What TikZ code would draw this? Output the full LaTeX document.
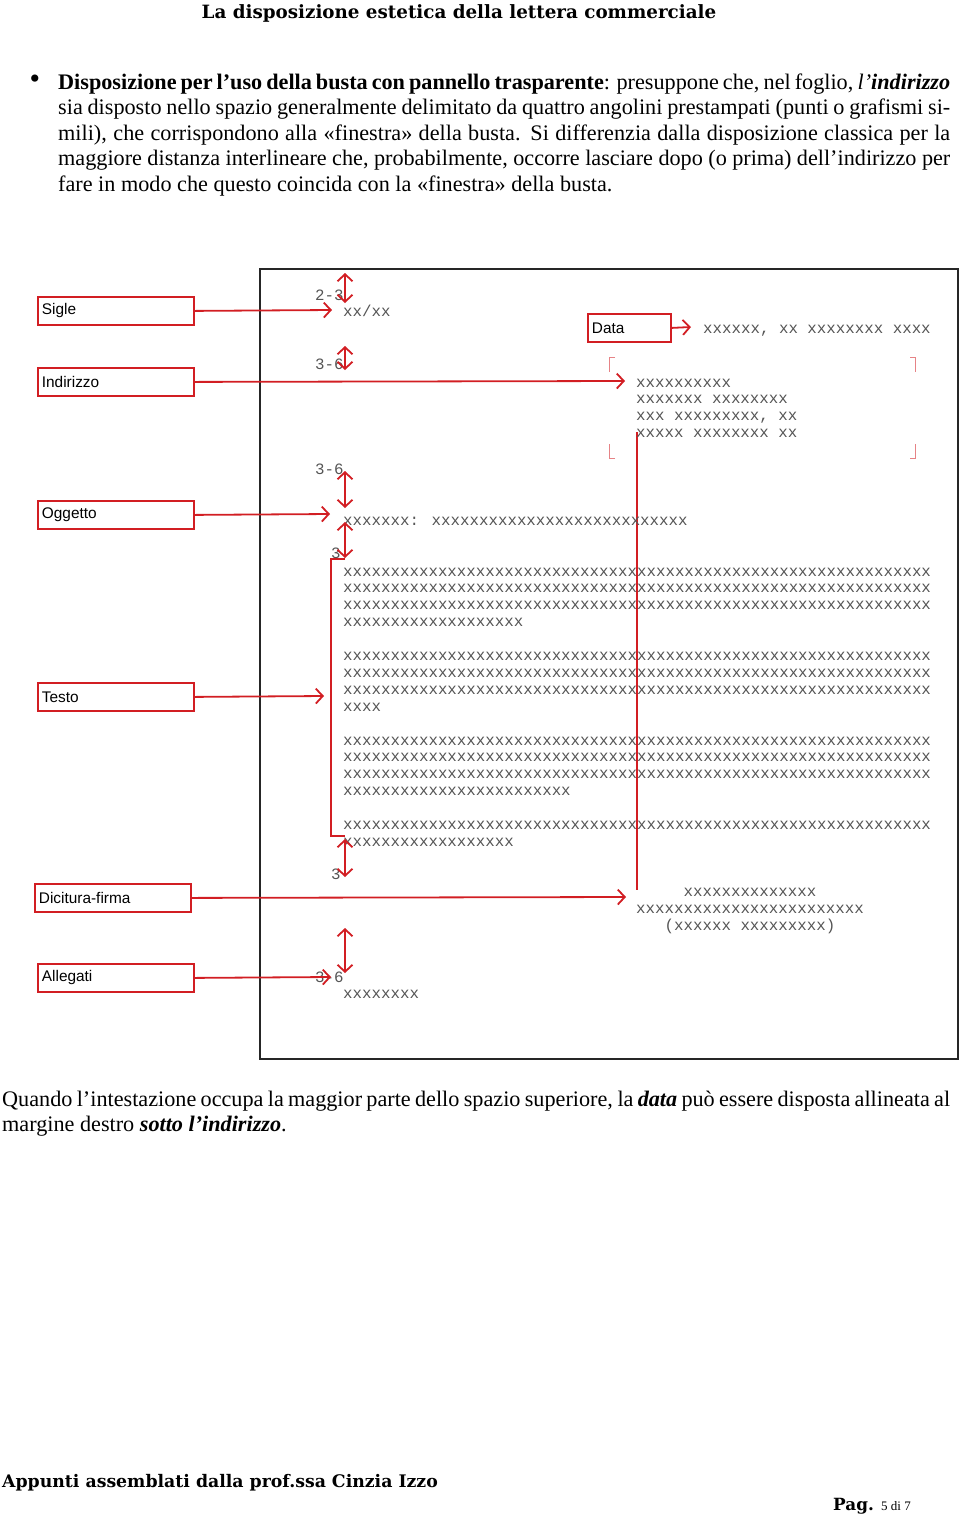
\documentclass[tikz,border=0pt]{standalone}
\usepackage{fontspec}
\setmainfont{Liberation Serif}
\newfontfamily\monof{Liberation Mono}
\newfontfamily\sansf{Liberation Sans}
\newfontfamily\headf{DejaVu Serif}
\usetikzlibrary{arrows.meta}
\definecolor{lred}{RGB}{210,30,35}
\definecolor{mgray}{RGB}{85,85,85}
\newcommand\xrun[1]{\ifnum#1>0 x\expandafter\xrun\expandafter{\the\numexpr#1-1\relax}\fi}
\tikzset{
  mono/.style={font=\monof\fontsize{15.8}{16.9}\selectfont, text=mgray, inner sep=0pt, anchor=base west},
  lab/.style={draw=lred, line width=1.8pt, fill=white, font=\sansf\fontsize{15.4}{18}\selectfont,
    text width=148pt, align=left, inner xsep=4pt, inner ysep=0pt, minimum height=28pt, anchor=north west},
  arr/.style={draw=lred, line width=1.8pt, -{Straight Barb[length=7pt,width=15pt,line width=1.8pt]}},
  darr/.style={draw=lred, line width=1.8pt, {Straight Barb[length=7pt,width=15pt,line width=1.8pt]}-{Straight Barb[length=7pt,width=15pt,line width=1.8pt]}},
  redline/.style={draw=lred, line width=1.8pt},
  corner/.style={draw=lred!55, line width=1pt},
  body/.style={font=\fontsize{22.2}{25.5}\selectfont, inner sep=0pt, align=justify, anchor=base west}
}
\begin{document}
\begin{tikzpicture}[x=1pt,y=-1pt]
\useasboundingbox (0,0) rectangle (960,1516);

% header
\node[font=\headf\bfseries\fontsize{18.3}{24}\selectfont, inner sep=0pt, anchor=base] (title) at (459,18) {La disposizione estetica della lettera commerciale};

% bullet paragraph
\node[font=\fontsize{30}{30}\selectfont, inner sep=0pt] (bullet) at (35,82) {•};
\node[body, text width=892pt] (para) at (58,89) {\textbf{Disposizione per l’uso della busta con pannello trasparente}: presuppone che, nel foglio, \textit{l’\textbf{indirizzo}}\linebreak
sia disposto nello spazio generalmente delimitato da quattro angolini prestampati (punti o grafismi si-\linebreak
mili), che corrispondono alla «finestra» della busta. Si differenzia dalla disposizione classica per la\linebreak
maggiore distanza interlineare che, probabilmente, occorre lasciare dopo (o prima) dell’indirizzo per\linebreak
fare in modo che questo coincida con la «finestra» della busta.};

% frame
\draw[line width=1.6pt, black!85] (260,269) rectangle (958,1059);

% window corners
\draw[corner] (615,357) -- (609,357) -- (609,372);
\draw[corner] (910,357) -- (915,357) -- (915,372);
\draw[corner] (615,458) -- (609,458) -- (609,444);
\draw[corner] (910,458) -- (915,458) -- (915,444);

% long vertical red line and bracket
\draw[redline] (637,432) -- (637,890);
\draw[redline] (345,559) -- (331,559) -- (331,836) -- (345,836);

% letter text
\node[mono] (sig) at (343,316) {xx/xx};
\node[mono] (date) at (703,333) {xxxxxx, xx xxxxxxxx xxxx};
\node[mono] (ad1) at (636,387) {xxxxxxxxxx};
\node[mono] (ad2) at (636,403.7) {xxxxxxx xxxxxxxx};
\node[mono] (ad3) at (636,420.4) {xxx xxxxxxxxx, xx};
\node[mono] (ad4) at (636,437.1) {xxxxx xxxxxxxx xx};
\node[mono] (ogg) at (343,525) {xxxxxxx: \xrun{27}};
\foreach \n [count=\i from 0] in {62,62,62,19,0,62,62,62,4,0,62,62,62,24,0,62,18} {
  \ifnum\n>0 \node[mono] (b\i) at (343,{576+16.9*\i}) {\xrun{\n}};\fi
}
\node[mono, anchor=base] (f1) at (750,896) {xxxxxxxxxxxxxx};
\node[mono, anchor=base] (f2) at (750,913) {xxxxxxxxxxxxxxxxxxxxxxxx};
\node[mono, anchor=base] (f3) at (750,930) {(xxxxxx xxxxxxxxx)};
\node[mono] (all) at (343,998) {xxxxxxxx};

% spacing labels
\node[mono] (s1) at (315,300) {2-3};
\node[mono] (s2) at (315,369) {3-6};
\node[mono] (s3) at (315,474) {3-6};
\node[mono] (s4) at (331,558) {3};
\node[mono] (s5) at (331,879) {3};
\node[mono] (s6) at (315,982) {3-6};

% double arrows
\coordinate (d1a) at (345,273); \coordinate (d1b) at (345,303);
\coordinate (d2a) at (345,346); \coordinate (d2b) at (345,370);
\coordinate (d3a) at (345,471); \coordinate (d3b) at (345,508);
\coordinate (d4a) at (345,522); \coordinate (d4b) at (345,558);
\coordinate (d5a) at (345,839); \coordinate (d5b) at (345,877);
\coordinate (d6a) at (345,928); \coordinate (d6b) at (345,973);
\draw[darr] (d1a) -- (d1b);
\draw[darr] (d2a) -- (d2b);
\draw[darr] (d3a) -- (d3b);
\draw[darr] (d4a) -- (d4b);
\draw[darr] (d5a) -- (d5b);
\draw[darr] (d6a) -- (d6b);

% label boxes
\node[lab] (sigle) at (37,296) {Sigle};
\node[lab] (indir) at (37,367) {Indirizzo};
\node[lab] (ogget) at (37,500) {Oggetto};
\node[lab] (testo) at (37,682) {Testo};
\node[lab] (dicit) at (34,883) {Dicitura-firma};
\node[lab] (alleg) at (37,963) {Allegati};
\node[lab, text width=75pt] (data) at (587,313) {Data};

\coordinate (tSig) at (332,310);
\coordinate (tInd) at (625,381);
\coordinate (tOgg) at (330,514);
\coordinate (tTes) at (324,696);
\coordinate (tDic) at (626,897);
\coordinate (tAll) at (331,977);
\coordinate (tDat) at (691,327);
\draw[arr] (sigle.east) -- (tSig);
\draw[arr] (indir.east) -- (tInd);
\draw[arr] (ogget.east) -- (tOgg);
\draw[arr] (testo.east) -- (tTes);
\draw[arr] (dicit.east) -- (tDic);
\draw[arr] (alleg.east) -- (tAll);
\draw[arr] (data.east) -- (tDat);

% bottom paragraph
\node[body, text width=948pt] (note) at (2,1106) {Quando l’intestazione occupa la maggior parte dello spazio superiore, la \textbf{\textit{data}} può essere disposta allineata al\linebreak
margine destro \textbf{\textit{sotto l’indirizzo}}.};

% footer
\node[font=\headf\bfseries\fontsize{17.3}{20}\selectfont, inner sep=0pt, anchor=base west] (foot) at (2,1487) {Appunti assemblati dalla prof.ssa Cinzia Izzo};
\node[font=\headf\bfseries\fontsize{16.8}{20}\selectfont, inner sep=0pt, anchor=base west] (pag) at (833,1510) {Pag.};
\node[font=\fontsize{13}{14}\selectfont, inner sep=0pt, anchor=base west] (pnum) at (881,1510) {5 di 7};
\end{tikzpicture}
\end{document}
